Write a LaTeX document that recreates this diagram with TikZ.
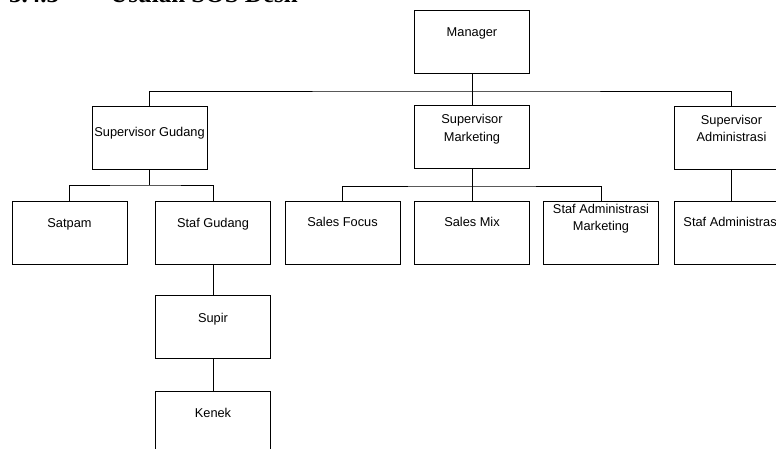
\documentclass[tikz,border=0pt]{standalone}
\usepackage{fontspec}
\setmainfont{Liberation Sans}
\newfontfamily\headfont{Liberation Serif}
\tikzset{
  box/.style={draw, line width=0.9pt, minimum width=115pt, minimum height=63pt, inner sep=0pt},
  boxtext/.style={font=\fontsize{12.8}{17.5}\selectfont, align=center, inner sep=0pt},
  headtext/.style={font=\headfont\bfseries\fontsize{25}{30}\selectfont, anchor=base west, inner sep=0pt},
  link/.style={line width=0.9pt},
}
\begin{document}
\begin{tikzpicture}[x=1pt, y=-1pt]
  \useasboundingbox (0,0) rectangle (776,448);
  % heading, cut off by the top edge
  \node[headtext] (nomor) at (9,2.5) {3.4.3};
  \node[headtext] (judul) at (110,2.5) {Usulan SOS Desn};

  % boxes
  \node[box] (mgr) at (472,42) {};
  \node[box] (supg) at (149.5,137.5) {};
  \node[box] (supm) at (472,137) {};
  \node[box] (supa) at (731.5,137.5) {};
  \node[box] (satpam) at (69.5,232.5) {};
  \node[box] (stafg) at (213,232.5) {};
  \node[box] (sfocus) at (342.5,232.5) {};
  \node[box] (smix) at (472,232.5) {};
  \node[box] (sam) at (601,232.5) {};
  \node[box] (stafa) at (731.5,232.5) {};
  \node[box] (supir) at (213,327) {};
  \node[box] (kenek) at (213,422.5) {};

  % texts
  \node[boxtext, anchor=base] (mgr-t) at ([yshift=-26pt]mgr.north) {Manager};
  \node[boxtext, anchor=base] (supg-t) at ([yshift=-31pt]supg.north) {Supervisor Gudang};
  \node[boxtext] (supm-t) at ([yshift=-24pt]supm.north) {Supervisor\\Marketing};
  \node[boxtext] (supa-t) at ([yshift=-23pt]supa.north) {Supervisor\\Administrasi};
  \node[boxtext, anchor=base] (satpam-t) at ([yshift=-27pt]satpam.north) {Satpam};
  \node[boxtext, anchor=base] (stafg-t) at ([yshift=-27pt]stafg.north) {Staf Gudang};
  \node[boxtext, anchor=base] (sfocus-t) at ([yshift=-26pt]sfocus.north) {Sales Focus};
  \node[boxtext, anchor=base] (smix-t) at ([yshift=-26pt]smix.north) {Sales Mix};
  \node[boxtext] (sam-t) at ([yshift=-18pt]sam.north) {Staf Administrasi\\Marketing};
  \node[boxtext, anchor=base] (stafa-t) at ([yshift=-26pt]stafa.north) {Staf Administrasi};
  \node[boxtext, anchor=base] (supir-t) at ([yshift=-27pt]supir.north) {Supir};
  \node[boxtext, anchor=base] (kenek-t) at ([yshift=-27pt]kenek.north) {Kenek};

  % connectors
  \coordinate (bus1) at (472,91);
  \draw[link] (mgr.south) -- (bus1);
  \draw[link] (supg.north) |- (bus1) -| (supa.north);
  \draw[link] (bus1) -- (supm.north);

  \coordinate (bus2) at (149.5,185);
  \draw[link] (supg.south) -- (bus2);
  \draw[link] (satpam.north) |- (bus2) -| (stafg.north);
  \draw[link] (stafg.south) -- (supir.north);
  \draw[link] (supir.south) -- (kenek.north);

  \coordinate (bus3) at (472,186);
  \draw[link] (supm.south) -- (smix.north);
  \draw[link] (sfocus.north) |- (bus3) -| (sam.north);
  \draw[link] (supa.south) -- (stafa.north);
\end{tikzpicture}
\end{document}
